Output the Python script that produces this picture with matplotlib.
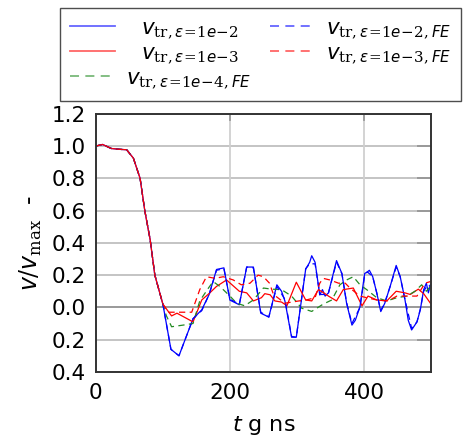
import numpy as np
import matplotlib
matplotlib.use("Agg")
import matplotlib.pyplot as plt

plt.rcParams['font.family'] = ['DejaVu Sans']
plt.rcParams['mathtext.fontset'] = 'custom'
plt.rcParams['mathtext.rm'] = 'DejaVu Serif'
plt.rcParams['mathtext.it'] = 'DejaVu Sans:italic'

# shared start of all runs (t in ns, v / v_max)
t_start = [0, 10, 23, 35, 46, 56, 66, 73, 81, 88, 100]
v_start = [1.0, 1.01, 0.985, 0.98, 0.977, 0.925, 0.80, 0.60, 0.42, 0.20, 0.02]

# eps = 1e-2
t_e2 = [112, 124, 145, 158, 169, 180, 191, 200, 214, 225, 235, 246, 258, 270, 277, 282, 292, 299,
        313, 319, 322, 327, 334, 338, 342, 347, 359, 367, 374, 382, 387, 394, 401, 405, 408, 413,
        419, 425, 431, 439, 448, 454, 461, 466, 471, 479, 484, 489, 493, 496, 499]
v_e2 = [-0.26, -0.30, -0.07, -0.015, 0.08, 0.235, 0.245, 0.045, 0.016, 0.25, 0.25, -0.036, -0.06,
        0.14, 0.10, 0.04, -0.185, -0.185, 0.237, 0.28, 0.32, 0.28, 0.077, 0.11, 0.07, 0.09, 0.29,
        0.21, 0.026, -0.11, -0.08, 0.004, 0.21, 0.22, 0.23, 0.19, 0.09, -0.026, 0.026, 0.13, 0.26,
        0.19, 0.05, -0.08, -0.14, -0.09, -0.015, 0.11, 0.15, 0.09, 0.14]

# eps = 1e-2, FE
t_e2fe = [112, 124, 145, 158, 169, 180, 191, 200, 214, 225, 235, 246, 258, 270, 282, 292, 299,
          313, 319, 327, 334, 342, 347, 359, 367, 374, 382, 394, 401, 405, 413, 419, 425, 431,
          439, 448, 454, 461, 471, 479, 484, 489, 495, 499]
v_e2fe = [-0.26, -0.30, -0.07, -0.02, 0.08, 0.23, 0.24, 0.05, 0.02, 0.25, 0.245, -0.03, -0.06,
          0.13, 0.05, -0.18, -0.185, 0.24, 0.27, 0.27, 0.08, 0.08, 0.09, 0.28, 0.21, 0.03, -0.10,
          0.0, 0.20, 0.22, 0.19, 0.09, -0.02, 0.03, 0.13, 0.25, 0.19, 0.05, -0.13, -0.09, -0.01,
          0.10, 0.14, 0.13]

# eps = 1e-3
t_e3 = [113, 121, 145, 158, 170, 180, 195, 214, 225, 235, 247, 252, 260, 267, 277, 285, 299, 313,
        322, 332, 340, 347, 359, 369, 384, 397, 406, 419, 434, 448, 461, 469, 481, 489, 499]
v_e3 = [-0.053, -0.036, -0.09, 0.046, 0.09, 0.13, 0.17, 0.10, 0.09, 0.04, 0.06, 0.085, 0.078,
        0.04, 0.033, 0.01, 0.156, 0.046, 0.04, 0.11, 0.09, 0.07, 0.04, 0.11, 0.12, 0.01, 0.07,
        0.046, 0.04, 0.10, 0.09, 0.08, 0.113, 0.085, 0.026]

# eps = 1e-3, FE
t_e3fe = [108, 118, 133, 143, 155, 165, 178, 190, 205, 217, 230, 242, 250, 259, 265, 282, 303,
          314, 327, 334, 339, 349, 362, 372, 379, 394, 404, 419, 436, 449, 464, 479, 491, 499]
v_e3fe = [-0.03, -0.03, -0.03, -0.03, 0.11, 0.19, 0.18, 0.19, 0.17, 0.14, 0.15, 0.20, 0.19, 0.15,
          0.08, 0.026, 0.04, 0.046, 0.06, 0.15, 0.18, 0.17, 0.15, 0.15, 0.12, 0.07, 0.06, 0.046,
          0.04, 0.07, 0.07, 0.07, 0.15, 0.16]

# eps = 1e-4, FE
t_e4fe = [105, 113, 130, 145, 155, 168, 175, 185, 200, 210, 222, 235, 250, 262, 277, 292, 307,
          322, 339, 352, 364, 374, 384, 394, 404, 419, 434, 449, 464, 476, 486, 493, 499]
v_e4fe = [-0.05, -0.12, -0.11, -0.10, 0.04, 0.12, 0.16, 0.13, 0.07, 0.026, 0.01, 0.046, 0.12,
          0.113, 0.11, 0.07, -0.005, -0.025, 0.02, 0.046, 0.14, 0.17, 0.19, 0.14, 0.11, 0.06, 0.04,
          0.06, 0.07, 0.10, 0.14, 0.10, 0.13]

ytick_vals = [-0.4, -0.2, 0.0, 0.2, 0.4, 0.6, 0.8, 1.0, 1.2]
ytick_labels = ["0.4", "0.2", "0.0", "0.2", "0.4", "0.6", "0.8", "1.0", "1.2"]
xtick_vals = [0, 200, 400]

fig = plt.figure(figsize=(4.63, 4.36), dpi=100)
ax = fig.add_axes([0.207, 0.147, 0.724, 0.592])


def lab(eps, fe=False, pad=False):
    s = r'v_{\mathrm{tr},\epsilon\!=\!1e\!-\!' + eps + (',FE' if fe else '') + '}'
    return ('$\\;\\;\\,' + s + '$') if pad else ('$' + s + '$')


dash = (0, (5, 3.5))
runs = [
    (t_e2, v_e2, '#0000ff', '-', lab('2', pad=True)),
    (t_e3, v_e3, '#ff0000', '-', lab('3', pad=True)),
    (t_e4fe, v_e4fe, '#228b22', dash, lab('4', fe=True)),
    (t_e2fe, v_e2fe, '#0000ff', dash, lab('2', fe=True)),
    (t_e3fe, v_e3fe, '#ff0000', dash, lab('3', fe=True)),
]
handles = []
for t, v, c, ls, lb in runs:
    tt = np.array(t_start + t)
    vv = np.array(v_start + v)
    h, = ax.plot(tt, vv, color=c, ls=ls, lw=0.9, label=lb)
    handles.append(h)

ax.set_xlim(0, 500)
ax.set_ylim(-0.4, 1.2)
ax.set_xticks(xtick_vals)
ax.set_yticks(ytick_vals)
ax.set_yticklabels(ytick_labels)
ax.tick_params(labelsize=15.5, length=0)
ax.tick_params(axis='y', pad=7)
ax.tick_params(axis='x', pad=8)

for y in ytick_vals:
    ax.axhline(y, color='#999999' if y == 0 else '#b4b4b4', lw=1.4 if y == 0 else 1.1, zorder=0)
for x in [200, 400]:
    ax.axvline(x, color='#d0d0d0', lw=1.3, zorder=0)
    ax.plot([x, x], [1.2, 1.16], color='#999999', lw=1.3, zorder=0)
# small inner ticks on the right spine
for y in ytick_vals:
    ax.plot([480, 500], [y, y], color='#999999', lw=1.4, zorder=0)

for s in ax.spines.values():
    s.set_color('#333333')
    s.set_linewidth(1.4)

ax.set_xlabel(r'$t$ g ns', fontsize=16, labelpad=8)
ax.set_ylabel(r'$v/v_{\mathrm{max}}$  -', fontsize=17, labelpad=6)

leg = fig.legend(handles=handles, loc='upper left', bbox_to_anchor=(0.13, 0.982), ncol=2,
                 fontsize=15.5, frameon=True, fancybox=False, edgecolor='#222222',
                 handlelength=2.1, handletextpad=0.5, columnspacing=0.9, labelspacing=0.08,
                 borderpad=0.45, borderaxespad=0)
leg.get_frame().set_linewidth(1.0)
for lh in leg.get_lines():
    lh.set_alpha(0.6)
    lh.set_linewidth(1.3)

fig.savefig('out.png', dpi=100)
